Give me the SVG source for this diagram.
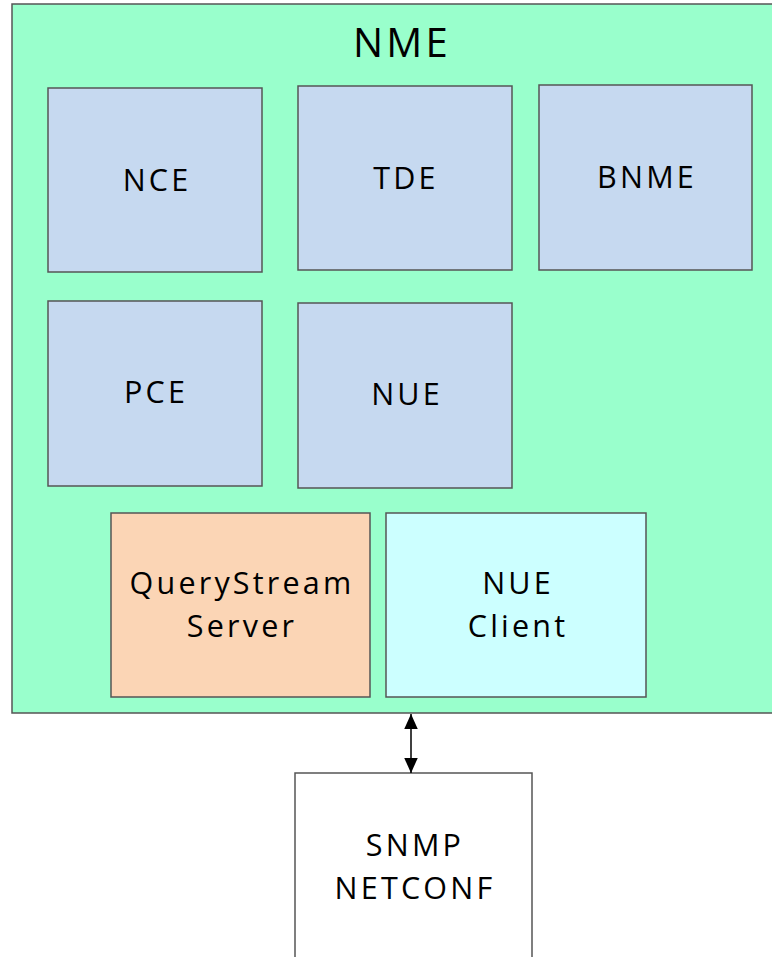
<svg xmlns="http://www.w3.org/2000/svg" width="772" height="957" viewBox="0 0 772 957">
<style>
.box{stroke:#555;stroke-width:1.5}
.t{font-family:"Open Sans","Noto Sans",sans-serif;font-size:30.5px;letter-spacing:3.2px;fill:#000;text-anchor:middle}
</style>
<defs>
<marker id="ah" viewBox="0 0 10 10" refX="10" refY="5" markerWidth="15" markerHeight="15" markerUnits="userSpaceOnUse" orient="auto-start-reverse">
<path d="M0,0.5 L10,5 L0,9.5 z" fill="#000"/>
</marker>
</defs>
<rect width="772" height="957" fill="#fff"/>
<g id="NME">
<rect class="box" x="12" y="4" width="764" height="709" fill="#99ffcc"/>
<text class="t" x="402" y="57" style="font-size:40px">NME</text>
</g>
<g id="NCE">
<rect class="box" x="48" y="88" width="214" height="184" fill="#c6d9f0"/>
<text class="t" x="157" y="191">NCE</text>
</g>
<g id="TDE">
<rect class="box" x="298" y="86" width="214" height="184" fill="#c6d9f0"/>
<text class="t" x="406" y="189">TDE</text>
</g>
<g id="BNME">
<rect class="box" x="539" y="85" width="213" height="185" fill="#c6d9f0"/>
<text class="t" x="647" y="188">BNME</text>
</g>
<g id="PCE">
<rect class="box" x="48" y="301" width="214" height="185" fill="#c6d9f0"/>
<text class="t" x="156" y="403">PCE</text>
</g>
<g id="NUE">
<rect class="box" x="298" y="303" width="214" height="185" fill="#c6d9f0"/>
<text class="t" x="407" y="405">NUE</text>
</g>
<g id="QueryStreamServer">
<rect class="box" x="111" y="513" width="259" height="184" fill="#fbd5b5"/>
<text class="t" x="242" y="594">QueryStream</text>
<text class="t" x="242" y="637">Server</text>
</g>
<g id="NUEClient">
<rect class="box" x="386" y="513" width="260" height="184" fill="#ccffff"/>
<text class="t" x="518" y="594">NUE</text>
<text class="t" x="518" y="637">Client</text>
</g>
<g id="SNMP">
<rect class="box" x="295" y="773" width="237" height="190" fill="#fff"/>
<text class="t" x="415" y="856">SNMP</text>
<text class="t" x="415" y="899">NETCONF</text>
</g>
<g id="connectors">
<line x1="411" y1="714" x2="411" y2="773" stroke="#000" stroke-width="1.5" marker-start="url(#ah)" marker-end="url(#ah)"/>
</g>
</svg>
